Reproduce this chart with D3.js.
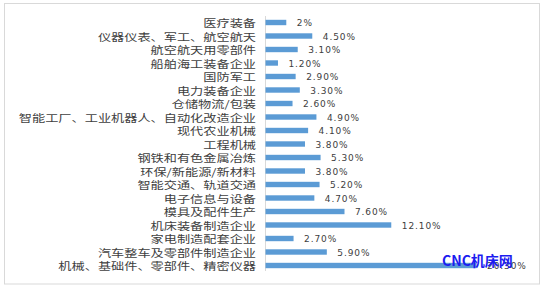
<!DOCTYPE html>
<html><head><meta charset="utf-8">
<script src="https://cdn.jsdelivr.net/npm/d3@7/dist/d3.min.js"></script>
<style>html,body{margin:0;padding:0;background:#fff;}svg{display:block;}</style>
</head><body>
<svg id="c" width="547" height="289"></svg>
<script>
const categories = ["医疗装备","仪器仪表、军工、航空航天","航空航天用零部件","船舶海工装备企业","国防军工","电力装备企业","仓储物流/包装","智能工厂、工业机器人、自动化改造企业","现代农业机械","工程机械","钢铁和有色金属冶炼","环保/新能源/新材料","智能交通、轨道交通","电子信息与设备","模具及配件生产","机床装备制造企业","家电制造配套企业","汽车整车及零部件制造企业","机械、基础件、零部件、精密仪器"];
const values = [2, 4.5, 3.1, 1.2, 2.9, 3.3, 2.6, 4.9, 4.1, 3.8, 5.3, 3.8, 5.2, 4.7, 7.6, 12.1, 2.7, 5.9, 20.3];
const valueLabels = ["2%","4.50%","3.10%","1.20%","2.90%","3.30%","2.60%","4.90%","4.10%","3.80%","5.30%","3.80%","5.20%","4.70%","7.60%","12.10%","2.70%","5.90%","20.30%"];
const watermark = "CNC机床网";

const svg = d3.select("#c");
svg.append("rect").attr("x",4.5).attr("y",3.5).attr("width",535).attr("height",280.5)
  .attr("fill","#fff").attr("stroke","#d9d9d9").attr("stroke-width",1);

const x = d3.scaleLinear().domain([0, 20.3]).range([265.5, 476.5]);
const y = d3.scaleBand().domain(categories).range([15.75, 272.25]).paddingInner(0.6).paddingOuter(0.3);

svg.append("line").attr("x1",265.5).attr("x2",265.5).attr("y1",16).attr("y2",271)
  .attr("stroke","#d9d9d9").attr("stroke-width",1);

svg.selectAll("rect.bar").data(values).join("rect").attr("class","bar")
  .attr("x", x(0)).attr("y",(d,i)=>y(categories[i]))
  .attr("width", d=>x(d)-x(0)).attr("height", y.bandwidth())
  .attr("fill","#5b9bd5");

const cy = c => y(c) + y.bandwidth()/2;

svg.selectAll("text.cat").data(categories).join("text").attr("class","cat")
  .attr("transform", c=>`translate(256,${cy(c)}) scale(1.32,1)`)
  .attr("text-anchor","end").attr("dominant-baseline","central")
  .attr("font-family","'Noto Sans CJK SC', sans-serif").attr("font-size",10)
  .attr("fill","#404040").text(c=>c);

svg.selectAll("text.val").data(values).join("text").attr("class","val")
  .attr("x", d=>x(d)+10.5).attr("y",(d,i)=>cy(categories[i])+0.5)
  .attr("dominant-baseline","central")
  .attr("font-family","'DejaVu Sans', sans-serif").attr("font-size",9)
  .attr("letter-spacing",0.9)
  .attr("fill","#404040").text((d,i)=>valueLabels[i]);

svg.append("text").attr("x",442).attr("y",266)
  .attr("font-family","'Noto Sans CJK SC', sans-serif").attr("font-weight","bold")
  .attr("font-size",14).attr("fill","#1c1cf0").text(watermark);
</script>
</body></html>
